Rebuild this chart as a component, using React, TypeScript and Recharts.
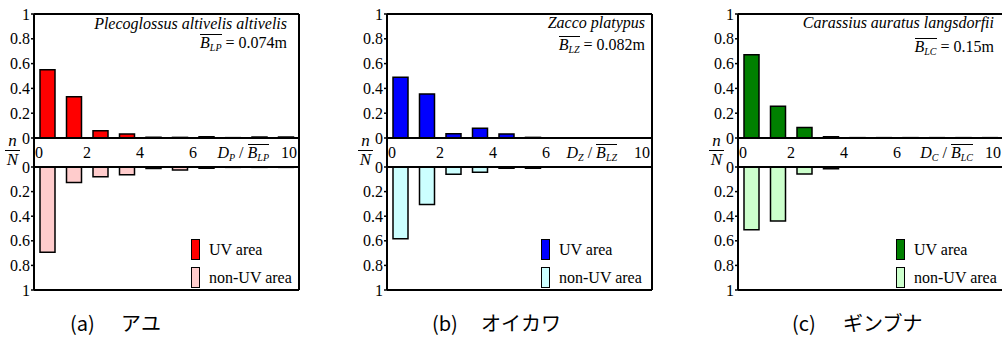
import React from 'react';
import { BarChart, Bar, XAxis, YAxis, ReferenceLine } from 'recharts';

// ---- data ----
const binCenters = [0.5, 1.5, 2.5, 3.5, 4.5, 5.5, 6.5, 7.5, 8.5, 9.5];
const xTicks = [0, 2, 4, 6, 10];
const yTicks = [0, 0.2, 0.4, 0.6, 0.8, 1];

const ayuUV = [0.55, 0.333, 0.059, 0.032, 0.006, 0.005, 0.01, 0.003, 0.008, 0.008];
const ayuNonUV = [0.693, 0.127, 0.079, 0.062, 0.012, 0.025, 0.01, 0.003, 0.003, 0.003];
const oikawaUV = [0.49, 0.355, 0.035, 0.079, 0.033, 0.005, 0.002, 0.002, 0.002, 0.002];
const oikawaNonUV = [0.583, 0.304, 0.059, 0.043, 0.01, 0.01, 0.002, 0.002, 0.002, 0.002];
const ginbunaUV = [0.672, 0.257, 0.084, 0.01, 0.003, 0.003, 0.003, 0.003, 0.003, 0.003];
const ginbunaNonUV = [0.51, 0.44, 0.056, 0.015, 0, 0, 0, 0, 0, 0];

const legendLabels = ['UV area', 'non-UV area'];
const speciesNames = ['Plecoglossus altivelis altivelis', 'Zacco platypus', 'Carassius auratus langsdorfii'];
const lengthSubs = ['LP', 'LZ', 'LC'];
const lengthValues = ['0.074m', '0.082m', '0.15m'];
const distSubs = ['P', 'Z', 'C'];
const captionLabels = ['(a)', '(b)', '(c)'];
const captionNames = ['アユ', 'オイカワ', 'ギンブナ'];

// ---- layout ----
const SERIF = "'Liberation Serif', 'Times New Roman', Times, serif";
const CJK = "'Noto Sans CJK JP', 'Noto Sans', sans-serif";
const AXIS_W = 34;
const PLOT_W = 265;
const TOP_Y = 14;
const ZERO_TOP = 138;
const STRIP_BOTTOM = 167;
const BOTTOM_END = 290;
const STRIP_CENTER = (ZERO_TOP + STRIP_BOTTOM) / 2;
const stripMin = -(STRIP_BOTTOM - ZERO_TOP) / (ZERO_TOP - TOP_Y);

const frame = { stroke: '#000', strokeWidth: 2 };

const XTick = (props: any) => {
  const { x, payload } = props;
  const v = payload.value;
  const anchor = v === 0 ? 'start' : v === 10 ? 'end' : 'middle';
  const dx = v === 0 ? 1 : v === 10 ? -2 : 0;
  return (
    <text x={x + dx} y={STRIP_CENTER} dy="0.35em" textAnchor={anchor} fontFamily={SERIF} fontSize={16} fill="#000">
      {v}
    </text>
  );
};

const YTick = (props: any) => {
  const { x, y, payload } = props;
  return (
    <text x={x} y={y} dy="0.35em" textAnchor="end" fontFamily={SERIF} fontSize={16} fill="#000">
      {String(payload.value)}
    </text>
  );
};

type PanelCfg = {
  idx: number;
  left: number;
  uv: number[];
  nonUV: number[];
  uvColor: string;
  nonColor: string;
  titleRight: number;
  line1Y: number;
  line2Y: number;
  xTitleRight: number;
  legendLeft: number;
  capLabelLeft: number;
  capNameLeft: number;
};

const subStyle: React.CSSProperties = { fontSize: 10, position: 'relative', top: 3 };

function Panel(c: PanelCfg) {
  const topData = binCenters.map((x, i) => ({ x, v: c.uv[i] }));
  const botData = binCenters.map((x, i) => ({ x, v: c.nonUV[i] }));
  const plotLeft = c.left + AXIS_W;
  const botMarginTop = 14;
  const botPlotH = BOTTOM_END - STRIP_BOTTOM;
  const botHeight = botMarginTop + botPlotH + 1 + 10;
  return (
    <>
      <div style={{ position: 'absolute', left: c.left, top: 0 }}>
        <BarChart width={AXIS_W + PLOT_W + 1} height={STRIP_BOTTOM + 1} data={topData}
          margin={{ top: TOP_Y, right: 1, bottom: 0, left: 0 }}>
          <XAxis dataKey="x" type="number" domain={[0, 10]} ticks={xTicks} interval={0} height={1}
            tickLine={false} axisLine={frame} tick={(p: any) => <XTick {...p} />} allowDataOverflow />
          <YAxis type="number" domain={[stripMin, 1]} ticks={yTicks} interval={0} width={AXIS_W}
            tickSize={3} tickMargin={1} axisLine={frame} tickLine={{ stroke: '#000', strokeWidth: 1.5 }}
            tick={(p: any) => <YTick {...p} />} allowDataOverflow />
          <ReferenceLine y={0} {...frame} />
          <ReferenceLine y={1} {...frame} />
          <ReferenceLine x={10} {...frame} />
          <Bar dataKey="v" fill={c.uvColor} stroke="#000" strokeWidth={1.5} barSize={15} isAnimationActive={false} />
        </BarChart>
      </div>
      <div style={{ position: 'absolute', left: c.left, top: STRIP_BOTTOM - botMarginTop }}>
        <BarChart width={AXIS_W + PLOT_W + 1} height={botHeight} data={botData}
          margin={{ top: botMarginTop, right: 1, bottom: 10, left: 0 }}>
          <XAxis dataKey="x" type="number" domain={[0, 10]} height={1} tick={false} tickLine={false}
            axisLine={frame} allowDataOverflow />
          <YAxis type="number" domain={[0, 1]} reversed ticks={yTicks} interval={0} width={AXIS_W}
            tickSize={3} tickMargin={1} axisLine={frame} tickLine={{ stroke: '#000', strokeWidth: 1.5 }}
            tick={(p: any) => <YTick {...p} />} allowDataOverflow />
          <ReferenceLine y={0} {...frame} />
          <ReferenceLine x={10} {...frame} />
          <Bar dataKey="v" fill={c.nonColor} stroke="#000" strokeWidth={1.5} barSize={15} isAnimationActive={false} />
        </BarChart>
      </div>

      {/* species title */}
      <div style={{ position: 'absolute', left: c.titleRight - 300, width: 300, top: c.line1Y - 9, lineHeight: '18px',
        textAlign: 'right', fontFamily: SERIF, fontSize: 16, fontStyle: 'italic', whiteSpace: 'nowrap' }}>
        {speciesNames[c.idx]}
      </div>
      <div style={{ position: 'absolute', left: c.titleRight - 300, width: 300, top: c.line2Y - 9, lineHeight: '18px',
        textAlign: 'right', fontFamily: SERIF, fontSize: 16, whiteSpace: 'nowrap' }}>
        <span style={{ display: 'inline-block', borderTop: '1px solid #000', lineHeight: '15px', fontStyle: 'italic' }}>
          B<span style={subStyle}>{lengthSubs[c.idx]}</span>
        </span>
        {' = ' + lengthValues[c.idx]}
      </div>

      {/* x title in strip */}
      <div style={{ position: 'absolute', left: c.xTitleRight - 200, width: 200, top: STRIP_CENTER - 9, lineHeight: '18px',
        textAlign: 'right', fontFamily: SERIF, fontSize: 16, whiteSpace: 'nowrap' }}>
        <i>D</i><i style={subStyle}>{distSubs[c.idx]}</i>{' / '}
        <span style={{ display: 'inline-block', borderTop: '1px solid #000', lineHeight: '15px', fontStyle: 'italic' }}>
          B<span style={subStyle}>{lengthSubs[c.idx]}</span>
        </span>
      </div>

      {/* n/N */}
      <div style={{ position: 'absolute', left: plotLeft - 21 - 8, width: 15, top: ZERO_TOP - 5, fontFamily: SERIF,
        fontSize: 17, fontStyle: 'italic', textAlign: 'center' }}>
        <div style={{ lineHeight: '15px', borderBottom: '1px solid #000', paddingBottom: 2 }}>n</div>
        <div style={{ lineHeight: '17px', paddingTop: 0 }}>N</div>
      </div>

      {/* legend */}
      {legendLabels.map((lab, i) => (
        <div key={lab} style={{ position: 'absolute', left: c.legendLeft, top: 239 + i * 28, height: 21, display: 'flex',
          alignItems: 'center', whiteSpace: 'nowrap' }}>
          <span style={{ display: 'inline-block', width: 9, height: 21, boxSizing: 'border-box', border: '1.5px solid #000',
            background: i === 0 ? c.uvColor : c.nonColor }} />
          <span style={{ marginLeft: 9, fontFamily: SERIF, fontSize: 16, lineHeight: '18px' }}>{lab}</span>
        </div>
      ))}

      {/* caption */}
      <div style={{ position: 'absolute', left: c.capLabelLeft, top: 311, lineHeight: '24px', fontFamily: CJK, fontSize: 20,
        whiteSpace: 'nowrap' }}>{captionLabels[c.idx]}</div>
      <div style={{ position: 'absolute', left: c.capNameLeft, top: 311, lineHeight: '24px', fontFamily: CJK, fontSize: 20,
        whiteSpace: 'nowrap' }}>{captionNames[c.idx]}</div>
    </>
  );
}

const panels: PanelCfg[] = [
  { idx: 0, left: 0, uv: ayuUV, nonUV: ayuNonUV, uvColor: '#ff0000', nonColor: '#ffcccc', titleRight: 287, line1Y: 24, line2Y: 43,
    xTitleRight: 269, legendLeft: 191, capLabelLeft: 70, capNameLeft: 121 },
  { idx: 1, left: 353, uv: oikawaUV, nonUV: oikawaNonUV, uvColor: '#0000ff', nonColor: '#ccffff', titleRight: 645, line1Y: 23, line2Y: 45,
    xTitleRight: 617, legendLeft: 541, capLabelLeft: 432, capNameLeft: 481 },
  { idx: 2, left: 704, uv: ginbunaUV, nonUV: ginbunaNonUV, uvColor: '#008000', nonColor: '#ccffcc', titleRight: 994, line1Y: 23, line2Y: 47,
    xTitleRight: 973, legendLeft: 896, capLabelLeft: 792, capNameLeft: 843 },
];

export default function App() {
  return (
    <div style={{ position: 'absolute', left: 0, top: 0, width: 1002, height: 338, overflow: 'hidden', background: '#fff' }}>
      {panels.map((p) => (
        <Panel key={p.idx} {...p} />
      ))}
    </div>
  );
}
